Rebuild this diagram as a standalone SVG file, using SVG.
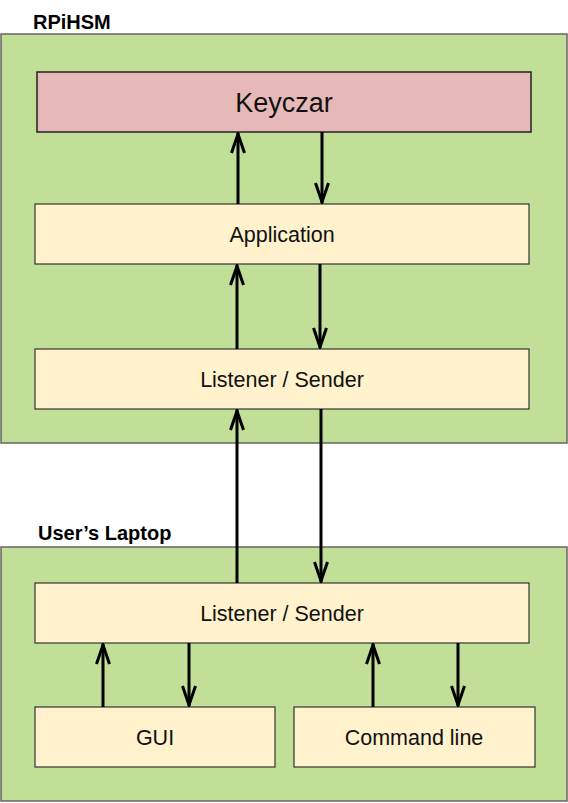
<svg xmlns="http://www.w3.org/2000/svg" width="568" height="803" viewBox="0 0 568 803">
<defs>
<style>
.outer{fill:#c1df97;stroke:#666;stroke-width:1.5}
.box{fill:#fff2cc;stroke:#333;stroke-width:1.2}
.key{fill:#e6b8b7;stroke:#222;stroke-width:1.5}
.lbl{font-family:"Liberation Sans",Arial,sans-serif;font-size:21.5px;fill:#111;text-anchor:middle}
.ttl{font-family:"Liberation Sans",Arial,sans-serif;font-size:20px;font-weight:bold;fill:#000}
.ar{stroke:#000;stroke-width:3;fill:none;marker-end:url(#head)}
</style>
<marker id="head" viewBox="0 0 22 16" refX="21" refY="8" markerWidth="22" markerHeight="16" markerUnits="userSpaceOnUse" orient="auto">
<path d="M1,1.5 L20,8 L1,14.5" fill="none" stroke="#000" stroke-width="3"/>
</marker>
</defs>
<g id="rpihsm">
<rect class="outer" x="1" y="34" width="566" height="409"/>
<text class="ttl" x="33" y="29">RPiHSM</text>
</g>
<g id="laptop">
<rect class="outer" x="1" y="547" width="566" height="254"/>
<text class="ttl" x="38" y="540">User’s Laptop</text>
</g>
<g id="keyczar">
<rect class="key" x="37" y="72" width="494" height="60"/>
<text class="lbl" x="284" y="112" style="font-size:27px">Keyczar</text>
</g>
<g id="application">
<rect class="box" x="35" y="204" width="494" height="60"/>
<text class="lbl" x="282" y="242">Application</text>
</g>
<g id="listener-top">
<rect class="box" x="35" y="349" width="494" height="60"/>
<text class="lbl" x="282" y="387">Listener / Sender</text>
</g>
<g id="listener-bottom">
<rect class="box" x="35" y="583" width="494" height="60"/>
<text class="lbl" x="282" y="621">Listener / Sender</text>
</g>
<g id="gui">
<rect class="box" x="35" y="707" width="240" height="60"/>
<text class="lbl" x="155" y="745">GUI</text>
</g>
<g id="cmd">
<rect class="box" x="294" y="707" width="241" height="60"/>
<text class="lbl" x="414" y="745">Command line</text>
</g>
<g id="connectors">
<line class="ar" x1="238" y1="204" x2="238" y2="133"/>
<line class="ar" x1="322" y1="132" x2="322" y2="203"/>
<line class="ar" x1="237" y1="349" x2="237" y2="265"/>
<line class="ar" x1="320" y1="264" x2="320" y2="348"/>
<line class="ar" x1="237" y1="583" x2="237" y2="410"/>
<line class="ar" x1="321" y1="409" x2="321" y2="582"/>
<line class="ar" x1="103" y1="707" x2="103" y2="644"/>
<line class="ar" x1="189" y1="643" x2="189" y2="706"/>
<line class="ar" x1="373" y1="707" x2="373" y2="644"/>
<line class="ar" x1="458" y1="643" x2="458" y2="706"/>
</g>
</svg>
